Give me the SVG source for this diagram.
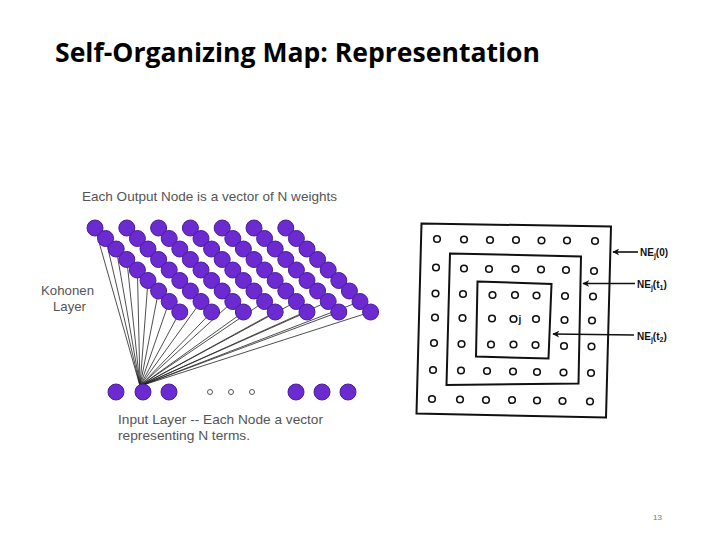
<svg xmlns="http://www.w3.org/2000/svg" width="720" height="540" viewBox="0 0 720 540">
<defs>
<style>
.k{fill:#6b2bd0;stroke:#4b1d9a;stroke-width:1}
.w{stroke:#222;stroke-width:0.8}
.s{fill:none;stroke:#555;stroke-width:1}
.lbl{font-family:"Liberation Sans",Arial,sans-serif;font-size:13px;fill:#555}
.g{fill:#fff;stroke:#111;stroke-width:1.6}
.sq{fill:none;stroke:#111;stroke-width:2}
.ne{font-family:"Liberation Sans",Arial,sans-serif;font-size:10px;font-weight:bold;fill:#111}
.ar{stroke:#111;stroke-width:1.6}
</style>
<marker id="ah" viewBox="0 0 10 10" refX="9" refY="5" markerWidth="7" markerHeight="7" orient="auto-start-reverse" markerUnits="userSpaceOnUse">
<path d="M0,0 L10,5 L0,10 L3,5 z" fill="#111"/>
</marker>
</defs>
<rect width="720" height="540" fill="#fff"/>
<text x="55" y="62" font-family="'Open Sans','Liberation Sans',sans-serif" font-weight="bold" font-size="27" fill="#000" textLength="485" lengthAdjust="spacingAndGlyphs">Self-Organizing Map: Representation</text>

<g id="connectors">
<line class="w" x1="140" y1="386" x2="95" y2="228"/>
<line class="w" x1="140" y1="386" x2="105.6" y2="238.5"/>
<line class="w" x1="140" y1="386" x2="116.2" y2="249"/>
<line class="w" x1="140" y1="386" x2="126.8" y2="259.5"/>
<line class="w" x1="140" y1="386" x2="137.4" y2="270"/>
<line class="w" x1="140" y1="386" x2="148" y2="280.5"/>
<line class="w" x1="140" y1="386" x2="158.6" y2="291"/>
<line class="w" x1="140" y1="386" x2="169.2" y2="301.5"/>
<line class="w" x1="140" y1="386" x2="179.8" y2="312"/>
<line class="w" x1="140" y1="386" x2="201" y2="301.5"/>
<line class="w" x1="140" y1="386" x2="211.6" y2="312"/>
<line class="w" x1="140" y1="386" x2="232.8" y2="301.5"/>
<line class="w" x1="140" y1="386" x2="243.4" y2="312"/>
<line class="w" x1="140" y1="386" x2="264.6" y2="301.5"/>
<line class="w" x1="140" y1="386" x2="275.2" y2="312"/>
<line class="w" x1="140" y1="386" x2="296.4" y2="301.5"/>
<line class="w" x1="140" y1="386" x2="307" y2="312"/>
<line class="w" x1="140" y1="386" x2="328.2" y2="301.5"/>
<line class="w" x1="140" y1="386" x2="338.8" y2="312"/>
<line class="w" x1="140" y1="386" x2="360" y2="301.5"/>
<line class="w" x1="140" y1="386" x2="370.6" y2="312"/>
</g>

<g id="kohonen-layer">
<g id="col1"><circle class="k" cx="95" cy="228" r="8"/><circle class="k" cx="105.6" cy="238.5" r="8"/><circle class="k" cx="116.2" cy="249" r="8"/><circle class="k" cx="126.8" cy="259.5" r="8"/><circle class="k" cx="137.4" cy="270" r="8"/><circle class="k" cx="148" cy="280.5" r="8"/><circle class="k" cx="158.6" cy="291" r="8"/><circle class="k" cx="169.2" cy="301.5" r="8"/><circle class="k" cx="179.8" cy="312" r="8"/></g>
<g id="col2"><circle class="k" cx="126.8" cy="228" r="8"/><circle class="k" cx="137.4" cy="238.5" r="8"/><circle class="k" cx="148" cy="249" r="8"/><circle class="k" cx="158.6" cy="259.5" r="8"/><circle class="k" cx="169.2" cy="270" r="8"/><circle class="k" cx="179.8" cy="280.5" r="8"/><circle class="k" cx="190.4" cy="291" r="8"/><circle class="k" cx="201" cy="301.5" r="8"/><circle class="k" cx="211.6" cy="312" r="8"/></g>
<g id="col3"><circle class="k" cx="158.6" cy="228" r="8"/><circle class="k" cx="169.2" cy="238.5" r="8"/><circle class="k" cx="179.8" cy="249" r="8"/><circle class="k" cx="190.4" cy="259.5" r="8"/><circle class="k" cx="201" cy="270" r="8"/><circle class="k" cx="211.6" cy="280.5" r="8"/><circle class="k" cx="222.2" cy="291" r="8"/><circle class="k" cx="232.8" cy="301.5" r="8"/><circle class="k" cx="243.4" cy="312" r="8"/></g>
<g id="col4"><circle class="k" cx="190.4" cy="228" r="8"/><circle class="k" cx="201" cy="238.5" r="8"/><circle class="k" cx="211.6" cy="249" r="8"/><circle class="k" cx="222.2" cy="259.5" r="8"/><circle class="k" cx="232.8" cy="270" r="8"/><circle class="k" cx="243.4" cy="280.5" r="8"/><circle class="k" cx="254" cy="291" r="8"/><circle class="k" cx="264.6" cy="301.5" r="8"/><circle class="k" cx="275.2" cy="312" r="8"/></g>
<g id="col5"><circle class="k" cx="222.2" cy="228" r="8"/><circle class="k" cx="232.8" cy="238.5" r="8"/><circle class="k" cx="243.4" cy="249" r="8"/><circle class="k" cx="254" cy="259.5" r="8"/><circle class="k" cx="264.6" cy="270" r="8"/><circle class="k" cx="275.2" cy="280.5" r="8"/><circle class="k" cx="285.8" cy="291" r="8"/><circle class="k" cx="296.4" cy="301.5" r="8"/><circle class="k" cx="307" cy="312" r="8"/></g>
<g id="col6"><circle class="k" cx="254" cy="228" r="8"/><circle class="k" cx="264.6" cy="238.5" r="8"/><circle class="k" cx="275.2" cy="249" r="8"/><circle class="k" cx="285.8" cy="259.5" r="8"/><circle class="k" cx="296.4" cy="270" r="8"/><circle class="k" cx="307" cy="280.5" r="8"/><circle class="k" cx="317.6" cy="291" r="8"/><circle class="k" cx="328.2" cy="301.5" r="8"/><circle class="k" cx="338.8" cy="312" r="8"/></g>
<g id="col7"><circle class="k" cx="285.8" cy="228" r="8"/><circle class="k" cx="296.4" cy="238.5" r="8"/><circle class="k" cx="307" cy="249" r="8"/><circle class="k" cx="317.6" cy="259.5" r="8"/><circle class="k" cx="328.2" cy="270" r="8"/><circle class="k" cx="338.8" cy="280.5" r="8"/><circle class="k" cx="349.4" cy="291" r="8"/><circle class="k" cx="360" cy="301.5" r="8"/><circle class="k" cx="370.6" cy="312" r="8"/></g>
</g>

<g id="input-layer">
<circle class="k" cx="116" cy="392" r="8"/>
<circle class="k" cx="143" cy="392" r="8"/>
<circle class="k" cx="169" cy="392" r="8"/>
<circle class="s" cx="210" cy="392" r="2.5"/>
<circle class="s" cx="231" cy="392" r="2.5"/>
<circle class="s" cx="252" cy="392" r="2.5"/>
<circle class="k" cx="296" cy="392" r="8"/>
<circle class="k" cx="322" cy="392" r="8"/>
<circle class="k" cx="348" cy="392" r="8"/>
</g>

<g id="labels-left">
<text class="lbl" x="82" y="201" textLength="255" lengthAdjust="spacingAndGlyphs">Each Output Node is a vector of N weights</text>
<text class="lbl" x="41" y="295" textLength="53" lengthAdjust="spacingAndGlyphs">Kohonen</text>
<text class="lbl" x="53" y="311" textLength="33" lengthAdjust="spacingAndGlyphs">Layer</text>
<text class="lbl" x="118" y="424" textLength="205" lengthAdjust="spacingAndGlyphs">Input Layer -- Each Node a vector</text>
<text class="lbl" x="118" y="440" textLength="132" lengthAdjust="spacingAndGlyphs">representing N terms.</text>
</g>

<g id="neighborhood">
<polygon class="sq" points="421.5,223.5 611,226.5 606,417.5 416.5,413.5"/>
<polygon class="sq" points="450,253.5 581,256.5 578.5,383.5 446.5,385"/>
<polygon class="sq" points="477.5,281.5 551.5,284 548.5,358.5 476,356.5"/>
<g id="grid">
<circle class="g" cx="437" cy="239" r="3.3"/><circle class="g" cx="464" cy="239.5" r="3.3"/><circle class="g" cx="490" cy="240" r="3.3"/><circle class="g" cx="516" cy="240" r="3.3"/><circle class="g" cx="541.5" cy="240.5" r="3.3"/><circle class="g" cx="567" cy="240.5" r="3.3"/><circle class="g" cx="595" cy="241" r="3.3"/>
<circle class="g" cx="436" cy="267.5" r="3.3"/><circle class="g" cx="464" cy="268.5" r="3.3"/><circle class="g" cx="489" cy="269" r="3.3"/><circle class="g" cx="515.5" cy="269" r="3.3"/><circle class="g" cx="541" cy="269.5" r="3.3"/><circle class="g" cx="566" cy="270" r="3.3"/><circle class="g" cx="594" cy="271" r="3.3"/>
<circle class="g" cx="435.5" cy="293.5" r="3.3"/><circle class="g" cx="463" cy="294" r="3.3"/><circle class="g" cx="492.5" cy="295" r="3.3"/><circle class="g" cx="515" cy="295" r="3.3"/><circle class="g" cx="536.5" cy="295.5" r="3.3"/><circle class="g" cx="565" cy="296" r="3.3"/><circle class="g" cx="593" cy="296.5" r="3.3"/>
<circle class="g" cx="435" cy="317.5" r="3.3"/><circle class="g" cx="462.5" cy="318" r="3.3"/><circle class="g" cx="492" cy="318.5" r="3.3"/><circle class="g" cx="513.5" cy="319" r="3.3"/><circle class="g" cx="536" cy="319" r="3.3"/><circle class="g" cx="564.5" cy="320" r="3.3"/><circle class="g" cx="592" cy="320.5" r="3.3"/>
<circle class="g" cx="434" cy="343" r="3.3"/><circle class="g" cx="461.5" cy="344" r="3.3"/><circle class="g" cx="491" cy="344.5" r="3.3"/><circle class="g" cx="513.5" cy="344.5" r="3.3"/><circle class="g" cx="535.5" cy="345" r="3.3"/><circle class="g" cx="564" cy="346" r="3.3"/><circle class="g" cx="591.5" cy="346.5" r="3.3"/>
<circle class="g" cx="433" cy="370" r="3.3"/><circle class="g" cx="461" cy="370.5" r="3.3"/><circle class="g" cx="487" cy="371" r="3.3"/><circle class="g" cx="513" cy="371.5" r="3.3"/><circle class="g" cx="537" cy="372" r="3.3"/><circle class="g" cx="563.5" cy="372.5" r="3.3"/><circle class="g" cx="591" cy="373" r="3.3"/>
<circle class="g" cx="432" cy="399" r="3.3"/><circle class="g" cx="460" cy="399.5" r="3.3"/><circle class="g" cx="486" cy="400" r="3.3"/><circle class="g" cx="512" cy="400" r="3.3"/><circle class="g" cx="537" cy="400.5" r="3.3"/><circle class="g" cx="562.5" cy="401" r="3.3"/><circle class="g" cx="590" cy="401.5" r="3.3"/>
</g>
<text x="518.5" y="322.5" font-family="'Liberation Sans',Arial,sans-serif" font-size="10" font-weight="bold" fill="#111">j</text>
<line class="ar" x1="638" y1="252" x2="613" y2="252" marker-end="url(#ah)"/>
<line class="ar" x1="635" y1="283.5" x2="583" y2="283.5" marker-end="url(#ah)"/>
<line class="ar" x1="634" y1="335" x2="553" y2="334" marker-end="url(#ah)"/>
<text class="ne" x="640" y="256">NE<tspan font-size="7" dy="2">j</tspan><tspan dy="-2">(0)</tspan></text>
<text class="ne" x="637" y="288">NE<tspan font-size="7" dy="2">j</tspan><tspan dy="-2">(t</tspan><tspan font-size="7" dy="2">1</tspan><tspan dy="-2">)</tspan></text>
<text class="ne" x="637" y="340">NE<tspan font-size="7" dy="2">j</tspan><tspan dy="-2">(t</tspan><tspan font-size="7" dy="2">2</tspan><tspan dy="-2">)</tspan></text>
</g>

<text x="653" y="520" font-family="'Liberation Sans',Arial,sans-serif" font-size="8" fill="#777">13</text>
</svg>
